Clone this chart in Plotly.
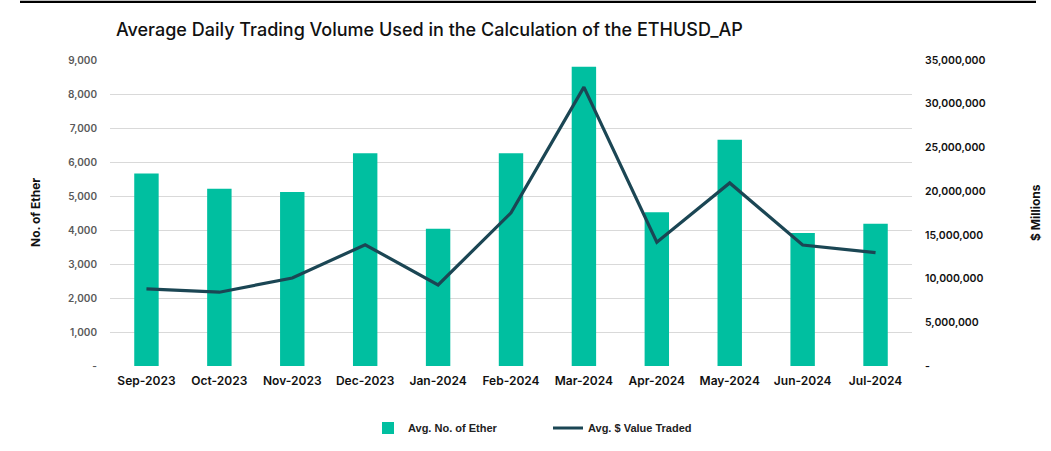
import plotly.graph_objects as go

months = ["Sep-2023", "Oct-2023", "Nov-2023", "Dec-2023", "Jan-2024", "Feb-2024",
          "Mar-2024", "Apr-2024", "May-2024", "Jun-2024", "Jul-2024"]
avg_ether = [5660, 5210, 5115, 6255, 4035, 6257, 8805, 4525, 6652, 3912, 4184]
avg_value = [8.82e6, 8.44e6, 10.07e6, 13.87e6, 9.27e6, 17.52e6, 31.9e6, 14.15e6,
             20.94e6, 13.84e6, 12.96e6]

left_ticks = [0, 1000, 2000, 3000, 4000, 5000, 6000, 7000, 8000, 9000]
left_labels = ["-"] + [f"{v:,}" for v in left_ticks[1:]]
right_ticks = [0, 5e6, 10e6, 15e6, 20e6, 25e6, 30e6, 35e6]
right_labels = ["-"] + [f"{int(v):,}" for v in right_ticks[1:]]

W, H = 1051, 451
L, R, T, B = 110, 912, 59.5, 366.3

def px(x):
    return (x - L) / (R - L)

def py(y):
    return (B - y) / (B - T)

fig = go.Figure()
fig.add_trace(go.Bar(x=months, y=avg_ether, name="Avg. No. of Ether",
                     marker=dict(color="#00BFA0", line=dict(width=0)), yaxis="y"))
fig.add_trace(go.Scatter(x=months, y=avg_value, name="Avg. $ Value Traded",
                         mode="lines", line=dict(color="#1B4654", width=3.2), yaxis="y2"))

fig.update_layout(
    width=W, height=H,
    margin=dict(l=L, r=W - R, t=T, b=H - B, autoexpand=False),
    paper_bgcolor="white", plot_bgcolor="white",
    bargap=0.665,
    showlegend=True,
    title=dict(text="Average Daily Trading Volume Used in the Calculation of the ETHUSD_AP",
               x=116 / W, xanchor="left", xref="container",
               y=1 - 30 / H, yanchor="middle", yref="container",
               font=dict(family="Inter", size=18, color="#111111", weight=500)),
    xaxis=dict(showgrid=False, showline=False, ticks="", zeroline=False, automargin=False,
               tickfont=dict(family="Inter", size=12, color="#111111", weight=600),
               ticklabelstandoff=6),
    yaxis=dict(range=[0, 9000], tickvals=left_ticks, ticktext=left_labels,
               showgrid=True, gridcolor="#D9D9D9", gridwidth=1, zeroline=False,
               showline=False, ticks="", automargin=False,
               tickfont=dict(family="Inter", size=10, color="#595959", weight=600),
               ticklabelstandoff=12),
    yaxis2=dict(range=[0, 35e6], tickvals=right_ticks, ticktext=right_labels,
                overlaying="y", side="right", showgrid=False, zeroline=False,
                showline=False, ticks="", automargin=False,
                tickfont=dict(family="Inter", size=10.5, color="#111111", weight=600),
                ticklabelstandoff=12),
    legend=dict(orientation="h", x=368 / W, xanchor="left", y=1 - 428 / H, yanchor="middle",
                xref="container", yref="container",
                font=dict(family="Liberation Sans", size=11, color="#222222", weight="bold"),
                itemwidth=30, tracegroupgap=0, entrywidthmode="pixels", entrywidth=135),
    annotations=[
        dict(text="<b>No. of Ether</b>", x=px(35), y=0.5, xref="paper", yref="paper",
             textangle=-90, showarrow=False, xanchor="center", yanchor="middle",
             font=dict(family="Inter", size=12, color="#111111")),
        dict(text="<b>$ Millions</b>", x=px(1035), y=0.5, xref="paper", yref="paper",
             textangle=-90, showarrow=False, xanchor="center", yanchor="middle",
             font=dict(family="Inter", size=12, color="#111111")),
    ],
    shapes=[dict(type="line", xref="paper", yref="paper", x0=px(20), x1=px(1036),
                 y0=py(1.2), y1=py(1.2), line=dict(color="black", width=2.4),
                 layer="above")],
)

fig.write_html("out.html", config={"displayModeBar": False},
               post_script="document.body.style.margin='0';")
